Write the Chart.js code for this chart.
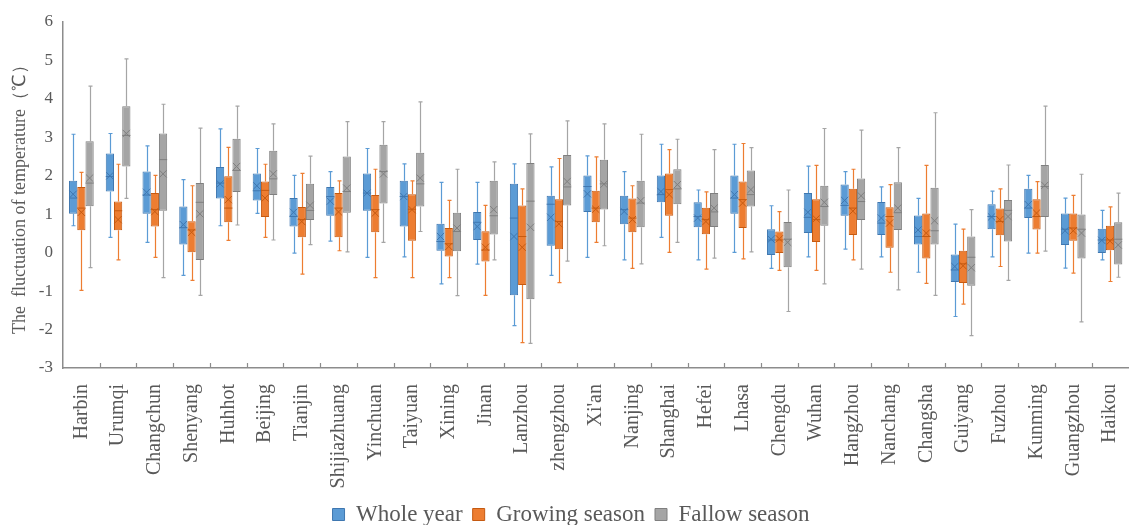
<!DOCTYPE html>
<html>
<head>
<meta charset="utf-8">
<script src="https://cdn.jsdelivr.net/npm/chart.js@4.4.0/dist/chart.umd.min.js"></script>
<style>
  html, body { margin: 0; padding: 0; background: #fff; overflow: hidden; }
  #wrap { width: 1142px; height: 536px; position: relative; }
</style>
</head>
<body>
<div id="wrap"><canvas id="boxChart"></canvas></div>
<script>
// Categories
const cities = ['Harbin', 'Urumqi', 'Changchun', 'Shenyang', 'Huhhot', 'Beijing', 'Tianjin', 'Shijiazhuang',
  'Yinchuan', 'Taiyuan', 'Xining', 'Jinan', 'Lanzhou', 'zhengzhou', "Xi'an", 'Nanjing', 'Shanghai', 'Hefei',
  'Lhasa', 'Chengdu', 'Wuhan', 'Hangzhou', 'Nanchang', 'Changsha', 'Guiyang', 'Fuzhou', 'Kunming', 'Guangzhou', 'Haikou'];

const yTicks = [-3, -2, -1, 0, 1, 2, 3, 4, 5, 6];

// Whole year
const wholeMin = [0.70, 0.40, 0.27, -0.59, 0.70, 1.02, -0.01, 0.30, -0.12, -0.11, -0.81, -0.30, -1.90, -0.59, -0.12, -0.19, 0.40, -0.19, 0.01, -0.41, -0.11, 0.09, -0.11, -0.51, -1.66, -0.11, -0.01, -0.40, -0.19];
const wholeQ1 = [1.01, 1.59, 1.01, 0.21, 1.41, 1.36, 0.68, 0.96, 1.09, 0.68, 0.05, 0.33, -1.11, 0.18, 1.06, 0.74, 1.31, 0.66, 1.01, -0.06, 0.51, 0.96, 0.46, 0.21, -0.76, 0.61, 0.90, 0.20, -0.01];
const wholeMedian = [1.42, 1.98, 1.50, 0.65, 1.81, 1.61, 0.94, 1.46, 1.55, 1.46, 0.29, 0.79, 0.90, 1.26, 1.72, 1.12, 1.51, 0.94, 1.42, 0.33, 0.92, 1.23, 0.77, 0.42, -0.45, 0.94, 1.16, 0.61, 0.33];
const wholeQ3 = [1.87, 2.58, 2.11, 1.20, 2.23, 2.06, 1.42, 1.71, 2.06, 1.87, 0.75, 1.06, 1.79, 1.48, 2.01, 1.48, 2.01, 1.31, 2.01, 0.61, 1.55, 1.77, 1.32, 0.97, -0.05, 1.26, 1.66, 1.02, 0.62];
const wholeMax = [3.08, 3.10, 2.78, 1.90, 3.22, 2.71, 2.01, 2.11, 2.71, 2.31, 1.83, 1.83, 2.31, 2.23, 2.52, 2.11, 2.82, 1.63, 2.82, 1.22, 2.25, 2.11, 1.71, 1.41, 0.74, 1.60, 2.01, 1.42, 1.10];
const wholeMean = [1.52, 2.00, 1.57, 0.73, 1.79, 1.74, 1.05, 1.34, 1.55, 1.46, 0.42, 0.68, 0.42, 0.92, 1.53, 1.07, 1.59, 0.90, 1.51, 0.35, 1.05, 1.36, 0.90, 0.59, -0.36, 0.93, 1.25, 0.57, 0.32];

// Growing season
const growMin = [-0.98, -0.19, -0.12, -0.72, 0.32, 0.40, -0.56, 0.05, -0.65, -0.65, -0.65, -1.11, -2.34, -0.78, 0.27, -0.41, 0.01, -0.43, -0.16, -0.46, -0.46, -0.19, -0.51, -0.80, -1.34, -0.36, -0.01, -0.53, -0.75];
const growQ1 = [0.58, 0.58, 0.68, 0.01, 0.79, 0.93, 0.40, 0.40, 0.53, 0.31, -0.10, -0.23, -0.84, 0.09, 0.79, 0.53, 0.96, 0.48, 0.64, -0.01, 0.28, 0.46, 0.13, -0.15, -0.79, 0.45, 0.60, 0.31, 0.06];
const growMedian = [1.16, 1.09, 1.12, 0.59, 1.16, 1.62, 0.86, 1.16, 1.12, 1.13, 0.23, 0.07, 0.42, 0.81, 1.16, 0.90, 1.64, 0.86, 1.38, 0.33, 0.86, 1.16, 0.94, 0.42, -0.29, 0.81, 0.94, 0.64, 0.33];
const growQ3 = [1.71, 1.33, 1.55, 0.82, 1.99, 1.85, 1.19, 1.55, 1.50, 1.52, 0.64, 0.56, 1.23, 1.39, 1.61, 1.41, 2.06, 1.17, 1.85, 0.55, 1.39, 1.66, 1.18, 1.02, 0.05, 1.15, 1.39, 1.02, 0.70];
const growMax = [2.09, 2.30, 2.01, 1.74, 2.74, 2.30, 2.06, 1.87, 2.17, 1.87, 1.36, 1.23, 1.66, 2.45, 2.49, 1.74, 2.68, 1.58, 2.84, 1.07, 2.27, 2.17, 1.77, 2.27, 0.61, 1.66, 1.85, 1.49, 1.19];
const growMean = [1.05, 0.86, 1.07, 0.53, 1.38, 1.42, 0.81, 1.06, 1.03, 1.12, 0.16, 0.14, 0.14, 0.75, 1.13, 0.86, 1.51, 0.81, 1.29, 0.36, 0.88, 1.08, 0.77, 0.51, -0.34, 0.86, 1.03, 0.57, 0.30];

// Fallow season
const fallowMin = [-0.39, 1.41, -0.65, -1.11, 0.72, 0.33, 0.21, 0.02, 0.27, 0.55, -1.12, -0.19, -2.36, -0.22, 0.18, -0.29, 0.27, -0.14, 0.02, -1.53, -0.81, -0.43, -0.97, -1.11, -2.16, -0.72, 0.04, -1.80, -0.64];
const fallowQ1 = [1.21, 2.24, 1.09, -0.19, 1.58, 1.50, 0.85, 1.04, 1.28, 1.20, 0.04, 0.47, -1.21, 1.23, 1.12, 0.66, 1.26, 0.67, 1.20, -0.38, 0.70, 0.85, 0.59, 0.21, -0.86, 0.29, 0.93, -0.15, -0.31];
const fallowMedian = [1.81, 3.05, 2.42, 1.31, 2.14, 1.92, 1.10, 1.59, 2.11, 1.79, 0.55, 0.96, 1.34, 1.71, 1.79, 1.29, 1.66, 1.06, 1.51, 0.35, 1.20, 1.33, 1.04, 0.57, -0.12, 1.10, 1.72, 0.61, 0.35];
const fallowQ3 = [2.90, 3.81, 3.10, 1.81, 2.96, 2.65, 1.79, 2.50, 2.81, 2.60, 1.04, 1.87, 2.33, 2.54, 2.42, 1.87, 2.17, 1.55, 2.14, 0.80, 1.74, 1.93, 1.83, 1.69, 0.42, 1.37, 2.28, 0.99, 0.79];
const fallowMax = [4.33, 5.04, 3.86, 3.24, 3.81, 3.35, 2.51, 3.41, 3.41, 3.92, 2.17, 2.36, 3.09, 3.43, 3.35, 3.08, 2.95, 2.68, 2.73, 1.63, 3.23, 3.19, 2.73, 3.64, 1.12, 2.28, 3.81, 2.04, 1.55];
const fallowMean = [1.94, 3.10, 2.05, 1.01, 2.24, 2.05, 1.23, 1.68, 2.05, 1.94, 0.64, 1.12, 0.66, 1.85, 1.78, 1.35, 1.77, 1.16, 1.64, 0.27, 1.31, 1.48, 1.16, 0.83, -0.39, 0.94, 1.75, 0.51, 0.20];

const textColor = '#595959';
const axisColor = '#8c8c8c';
const serif = "'Liberation Serif', 'Times New Roman', serif";

// Build one box series (the box itself is a floating bar q1..q3)
function makeSeries(label, fill, border, whisker, min, q1, median, q3, max, mean) {
  return {
    label: label,
    data: q1.map((v, i) => [v, q3[i]]),
    backgroundColor: fill,
    borderColor: border,
    borderWidth: 1,
    borderSkipped: false,
    whiskerColor: whisker,
    stats: { min, median, max, mean }
  };
}

// Whiskers, median line and mean cross
const boxPlugin = {
  id: 'boxWhiskers',
  afterDatasetsDraw(chart) {
    const ctx = chart.ctx;
    const y = chart.scales.y;
    ctx.save();
    chart.data.datasets.forEach((ds, di) => {
      const meta = chart.getDatasetMeta(di);
      meta.data.forEach((bar, i) => {
        const x = Math.round(bar.x) + 0.5;
        const half = bar.width / 2;
        const yTop = y.getPixelForValue(ds.data[i][1]);
        const yBot = y.getPixelForValue(ds.data[i][0]);
        const yMax = y.getPixelForValue(ds.stats.max[i]);
        const yMin = y.getPixelForValue(ds.stats.min[i]);
        const yMed = y.getPixelForValue(ds.stats.median[i]);
        const yMean = y.getPixelForValue(ds.stats.mean[i]);

        ctx.strokeStyle = ds.whiskerColor;
        ctx.lineWidth = 1.2;
        ctx.beginPath();
        ctx.moveTo(x, yTop); ctx.lineTo(x, yMax);
        ctx.moveTo(x, yBot); ctx.lineTo(x, yMin);
        ctx.moveTo(x - 2, yMax); ctx.lineTo(x + 2, yMax);
        ctx.moveTo(x - 2, yMin); ctx.lineTo(x + 2, yMin);
        ctx.stroke();

        ctx.strokeStyle = ds.borderColor;
        ctx.lineWidth = 1;
        ctx.beginPath();
        ctx.moveTo(bar.x - half, yMed); ctx.lineTo(bar.x + half, yMed);
        const s = Math.min(half - 0.5, 4);
        ctx.moveTo(bar.x - s, yMean - s); ctx.lineTo(bar.x + s, yMean + s);
        ctx.moveTo(bar.x - s, yMean + s); ctx.lineTo(bar.x + s, yMean - s);
        ctx.stroke();
      });
    });
    ctx.restore();
  },
  // small inner tick marks between categories on the x axis
  afterDraw(chart) {
    const ctx = chart.ctx;
    const xs = chart.scales.x;
    const bottom = chart.chartArea.bottom;
    ctx.save();
    ctx.strokeStyle = axisColor;
    ctx.lineWidth = 1.2;
    ctx.beginPath();
    for (let i = 1; i < cities.length; i++) {
      const px = Math.round((xs.getPixelForValue(i - 1) + xs.getPixelForValue(i)) / 2) + 0.5;
      ctx.moveTo(px, bottom);
      ctx.lineTo(px, bottom - 5);
    }
    ctx.stroke();
    ctx.restore();
  }
};

const boxChart = new Chart(document.getElementById('boxChart'), {
  type: 'bar',
  data: {
    labels: cities,
    datasets: [
      makeSeries('Whole year', '#5b9bd5', '#3f77b0', '#5b9bd5', wholeMin, wholeQ1, wholeMedian, wholeQ3, wholeMax, wholeMean),
      makeSeries('Growing season', '#ed7d31', '#c55a11', '#ed7d31', growMin, growQ1, growMedian, growQ3, growMax, growMean),
      makeSeries('Fallow season', '#a5a5a5', '#7f7f7f', '#a5a5a5', fallowMin, fallowQ1, fallowMedian, fallowQ3, fallowMax, fallowMean)
    ]
  },
  options: {
    responsive: true,
    maintainAspectRatio: false,
    animation: false,
    layout: { padding: { top: 22, right: 0, bottom: 0, left: 0 } },
    datasets: {
      bar: { categoryPercentage: 0.672, barPercentage: 1 }
    },
    plugins: {
      tooltip: { enabled: false },
      legend: {
        position: 'bottom',
        labels: {
          color: textColor,
          font: { family: serif, size: 23 },
          boxWidth: 12,
          boxHeight: 12,
          padding: 10
        }
      }
    },
    scales: {
      x: {
        grid: { display: false },
        border: { display: true, color: axisColor, width: 1.5 },
        ticks: {
          color: textColor,
          font: { family: serif, size: 20 },
          minRotation: 90,
          maxRotation: 90,
          autoSkip: false,
          padding: 8
        },
        afterFit: (scale) => { scale.height = 125; }
      },
      y: {
        min: -3,
        max: 6,
        afterBuildTicks: (scale) => { scale.ticks = yTicks.map(v => ({ value: v })); },
        grid: { display: false, drawTicks: false },
        border: { display: true, color: axisColor, width: 1.5 },
        ticks: {
          color: textColor,
          font: { family: serif, size: 17 },
          padding: 10
        },
        title: {
          display: true,
          text: 'The  fluctuation of temperature（℃）',
          color: textColor,
          font: { family: serif, size: 18 },
          padding: { top: 9, bottom: 0 }
        },
        afterFit: (scale) => { scale.width = 63; }
      }
    }
  },
  plugins: [boxPlugin]
});
</script>
</body>
</html>
